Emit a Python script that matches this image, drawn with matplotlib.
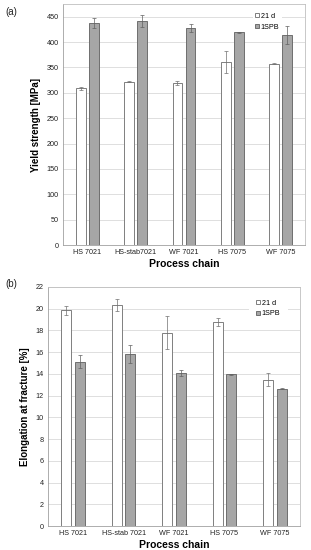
import matplotlib
matplotlib.use("Agg")
import matplotlib.pyplot as plt
import numpy as np

categories_a = ["HS 7021", "HS-stab7021", "WF 7021", "HS 7075", "WF 7075"]
categories_b = ["HS 7021", "HS-stab 7021", "WF 7021", "HS 7075", "WF 7075"]
series = ["21 d", "1SPB"]

ys_21d = [309, 322, 319, 361, 357]
ys_21d_err = [3, 1, 4, 22, 1]
ys_1spb = [437, 442, 427, 419, 414]
ys_1spb_err = [10, 12, 8, 1.5, 17]

el_21d = [19.85, 20.35, 17.8, 18.75, 13.45]
el_21d_err = [0.4, 0.55, 1.5, 0.35, 0.6]
el_1spb = [15.1, 15.85, 14.1, 13.95, 12.62]
el_1spb_err = [0.6, 0.8, 0.25, 0.05, 0.05]

plt.rcParams['font.family'] = ['Liberation Sans', 'DejaVu Sans']

fig = plt.figure(figsize=(3.11, 5.5), dpi=100)
ax1 = fig.add_axes([0.2026, 0.5545, 0.7781, 0.4382])
ax2 = fig.add_axes([0.1543, 0.0436, 0.8103, 0.4346])

white_fc, white_ec = "white", "#7f7f7f"
grey_fc, grey_ec = "#a6a6a6", "#6e6e6e"
w = 0.2
off = 0.135

def draw(ax, cats, v1, e1, v2, e2, ymax, step, ylabel):
    x = np.arange(len(cats))
    ax.bar(x - off, v1, w, color=white_fc, edgecolor=white_ec, linewidth=0.7,
           label=series[0], zorder=3)
    ax.bar(x + off, v2, w, color=grey_fc, edgecolor=grey_ec, linewidth=0.7,
           label=series[1], zorder=3)
    ax.errorbar(x - off, v1, yerr=e1, fmt="none", ecolor="#707070",
                elinewidth=0.5, capsize=1.5, capthick=0.5, zorder=4)
    ax.errorbar(x + off, v2, yerr=e2, fmt="none", ecolor="#606060",
                elinewidth=0.5, capsize=1.5, capthick=0.5, zorder=4)
    ax.set_xlim(-0.5, len(cats) - 0.5)
    ax.set_ylim(0, ymax)
    ax.set_yticks(np.arange(0, ymax + 0.001, step))
    ax.set_xticks(x)
    ax.set_xticklabels(cats, fontsize=5.2, color="#222222")
    ax.tick_params(axis="y", labelsize=5.2, length=0, pad=3, labelcolor="#222222")
    ax.tick_params(axis="x", length=0, pad=3)
    ax.yaxis.grid(True, color="#d9d9d9", linewidth=0.6, zorder=0)
    ax.set_axisbelow(True)
    for s in ax.spines.values():
        s.set_color("#bfbfbf")
        s.set_linewidth(0.6)
    ax.spines["left"].set_color("#a0a0a0")
    ax.spines["bottom"].set_color("#a0a0a0")
    ax.set_xlabel("Process chain", fontsize=7.5, fontweight="bold", labelpad=2)
    ax.set_ylabel(ylabel, fontsize=7, fontweight="bold", labelpad=4)

draw(ax1, categories_a, ys_21d, ys_21d_err, ys_1spb, ys_1spb_err, 475, 50,
     "Yield strength [MPa]")
draw(ax2, categories_b, el_21d, el_21d_err, el_1spb, el_1spb_err, 22, 2,
     "Elongation at fracture [%]")

for ax, loc, bp in ((ax1, (0.845, 0.927), 0.35), (ax2, (0.875, 0.91), 1.0)):
    leg = ax.legend(loc="center", bbox_to_anchor=loc, fontsize=5.2,
                    frameon=True, handlelength=0.55, handleheight=0.55,
                    handletextpad=0.2, labelspacing=0.55, borderpad=bp,
                    borderaxespad=0, fancybox=False, framealpha=1)
    leg.get_frame().set_edgecolor("white")
    leg.get_frame().set_linewidth(0)
    leg.set_zorder(2.5)

fig.text(0.016, 0.973, "(a)", fontsize=7, color="#222222")
fig.text(0.016, 0.478, "(b)", fontsize=7, color="#222222")

fig.savefig("out.png", dpi=100)
